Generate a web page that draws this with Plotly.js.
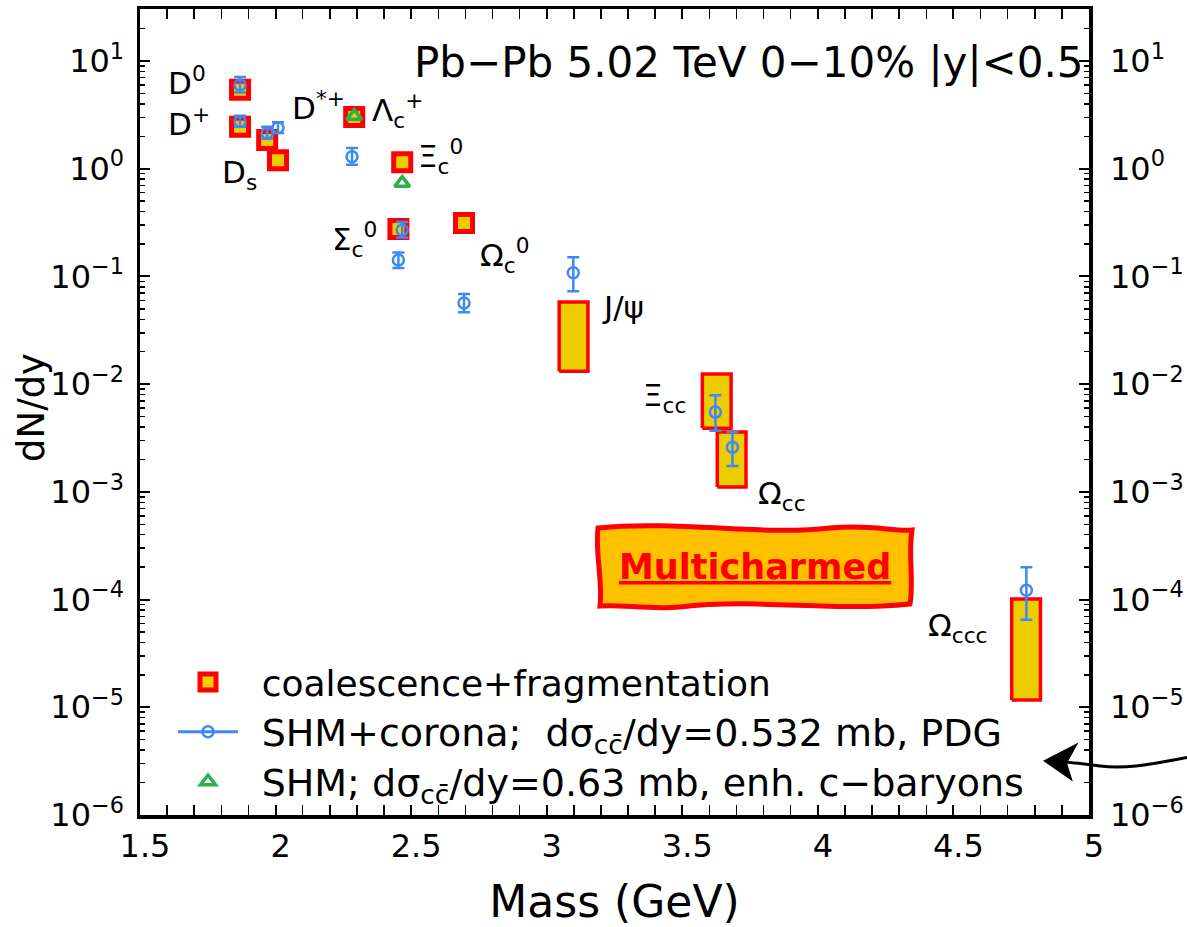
<!DOCTYPE html>
<html><head><meta charset="utf-8">
<script src="https://cdn.plot.ly/plotly-3.0.1.min.js"></script>
<style>html,body{margin:0;padding:0;background:#fff}</style>
</head><body>
<div id="chart" style="width:1187px;height:927px"></div>
<script>
// ---------------- data ----------------
const xTickVals = [1.5, 2, 2.5, 3, 3.5, 4, 4.5, 5];
const xTickText = ['1.5', '2', '2.5', '3', '3.5', '4', '4.5', '5'];
const yTickVals = [1e-6, 1e-5, 1e-4, 1e-3, 1e-2, 1e-1, 1, 10];
const yTickText = ['10<sup>−6</sup>', '10<sup>−5</sup>', '10<sup>−4</sup>', '10<sup>−3</sup>',
                   '10<sup>−2</sup>', '10<sup>−1</sup>', '10<sup>0</sup>', '10<sup>1</sup>'];

// coalescence + fragmentation: single values
const cfPointNames = ['D0', 'D+', 'D*+', 'Ds', 'Λc+', 'Ξc0', 'Σc0', 'Ωc0'];
const cfPointMass  = [1.869, 1.869, 1.969, 2.009, 2.290, 2.467, 2.453, 2.695];
const cfPointYield = [5.4, 2.45, 1.85, 1.20, 3.02, 1.15, 0.275, 0.313];

// coalescence + fragmentation: ranges (bands)
const cfBandNames = ['J/ψ', 'Ξcc', 'Ωcc', 'Ωccc'];
const cfBandMass  = [3.099, 3.627, 3.682, 4.768];
const cfBandLow   = [0.0132, 0.0039, 0.00111, 1.17e-5];
const cfBandHigh  = [0.058, 0.0124, 0.0036, 1.01e-4];
const cfBandHalfWidth = 0.053;

// SHM + corona
const shmNames = ['D0', 'D+', 'D*+', 'Ds', 'Λc+', 'Ξc0', 'Σc0', 'Ωc0', 'J/ψ', 'Ξcc', 'Ωcc', 'Ωccc'];
const shmMass  = [1.869, 1.869, 1.969, 2.009, 2.282, 2.467, 2.453, 2.695, 3.098, 3.622, 3.685, 4.769];
const shmYield = [6.0, 2.75, 2.15, 2.4, 1.29, 0.27, 0.142, 0.0566, 0.108, 0.0055, 0.0026, 1.22e-4];
const shmErrPlus  = [1.1, 0.35, 0.3, 0.3, 0.27, 0.05, 0.025, 0.012, 0.043, 0.0024, 0.001, 0.78e-4];
const shmErrMinus = [0.9, 0.3, 0.25, 0.25, 0.2, 0.04, 0.022, 0.010, 0.035, 0.0018, 0.00086, 0.57e-4];

// SHM with enhanced charm baryons
const enhNames = ['Λc+', 'Ξc0'];
const enhMass  = [2.290, 2.467];
const enhYield = [3.08, 0.736];

const legendNames = [
  'coalescence+fragmentation',
  'SHM+corona;\u00A0 dσ<sub>cc̄</sub>/dy=0.532 mb, PDG',
  'SHM; dσ<sub>cc̄</sub>/dy=0.63 mb, enh. c−baryons'
];
const LEGEND_PAD = '\u00A0\u2009';
const wide = s => '<span style="font-size:38px">' + s + '</span>';

// particle labels (text, pixel position of left edge and vertical centre)
const labelTexts = ['D<sup>0</sup>', 'D<sup>+</sup>', 'D<sup>*+</sup>', 'Λ<sub>c</sub><sup>+</sup>', 'D<sub>s</sub>',
  'Ξ<sub>c</sub><sup>0</sup>', 'Σ<sub>c</sub><sup>0</sup>', 'Ω<sub>c</sub><sup>0</sup>', 'J/ψ',
  'Ξ<sub>cc</sub>', 'Ω<sub>cc</sub>', 'Ω<sub>ccc</sub>'];
const labelPx = [[166, 81], [166, 122], [290, 106], [370, 110], [220, 174], [416, 156], [330, 239], [478, 256],
  [600, 307], [641, 397], [756, 495], [926, 627]];

// ---------------- geometry helpers (layout only) ----------------
const FONT = 'DejaVu Sans';
const L = 140, R = 1089, T = 9, B = 815;
const px = x => (x - L) / (R - L);
const py = y => (B - y) / (B - T);
const P = (x, y) => px(x).toFixed(5) + ',' + py(y).toFixed(5);

const RED = '#ff0000', YEL = '#ebcd00', BLUE = '#3d8af7', GREEN = '#2eae4f';

// minor log tick positions (2..9 x 10^n)
const yMinorVals = [];
for (let n = -6; n <= 1; n++) for (let k = 2; k <= 9; k++) {
  const v = k * Math.pow(10, n);
  if (v < 30) yMinorVals.push(v);
}

// bands as closed polygons separated by null
const bandX = [], bandY = [];
cfBandMass.forEach((m, i) => {
  const a = m - cfBandHalfWidth, b = m + cfBandHalfWidth;
  bandX.push(a, b, b, a, a, null);
  bandY.push(cfBandLow[i], cfBandLow[i], cfBandHigh[i], cfBandHigh[i], cfBandLow[i], null);
});

const traces = [
  { x: bandX, y: bandY, mode: 'lines', fill: 'toself', fillcolor: YEL,
    line: { color: RED, width: 3.5 }, showlegend: false, hoverinfo: 'skip' },
  { x: cfPointMass, y: cfPointYield, text: cfPointNames, mode: 'markers', name: LEGEND_PAD + legendNames[0],
    marker: { symbol: 'square', size: 17, color: YEL, line: { color: RED, width: 5 } } },
  { x: enhMass, y: enhYield, text: enhNames, mode: 'markers', showlegend: false,
    marker: { symbol: 'triangle-up-open', size: 13, color: GREEN, line: { color: GREEN, width: 3.5 } } },
  { x: shmMass, y: shmYield, text: shmNames, mode: 'markers', showlegend: false,
    marker: { symbol: 'circle-open', size: 11, color: BLUE, line: { color: BLUE, width: 2.5 } },
    error_y: { type: 'data', symmetric: false, array: shmErrPlus, arrayminus: shmErrMinus,
               color: BLUE, thickness: 2.5, width: 6 } },
  { x: [null], y: [null], mode: 'lines+markers', name: LEGEND_PAD + wide(legendNames[1]),
    line: { color: BLUE, width: 3 },
    marker: { symbol: 'circle-open', size: 11, color: BLUE, line: { color: BLUE, width: 2.5 } } },
  { x: [null], y: [null], mode: 'markers', name: LEGEND_PAD + wide(legendNames[2]),
    marker: { symbol: 'triangle-up-open', size: 13, color: GREEN, line: { color: GREEN, width: 3.5 } } },
  // carries the right-hand label axis (draws nothing)
  { x: shmMass, y: shmYield, yaxis: 'y2', mode: 'none', showlegend: false, hoverinfo: 'skip' }
];

const annotations = labelTexts.map((t, i) => ({
  text: t, xref: 'paper', yref: 'paper', x: px(labelPx[i][0]), y: py(labelPx[i][1]),
  xanchor: 'left', yanchor: 'middle', showarrow: false,
  font: { family: FONT, size: 31, color: 'black' }
}));
annotations.push({
  text: 'Pb−Pb 5.02 TeV 0−10% |y|&lt;0.5', xref: 'paper', yref: 'paper',
  x: px(1086), y: py(62), xanchor: 'right', yanchor: 'middle', showarrow: false,
  font: { family: FONT, size: 42, color: 'black' }
});
annotations.push({
  text: '<b><u>Multicharmed</u></b>', xref: 'paper', yref: 'paper',
  x: px(755), y: py(567), xanchor: 'center', yanchor: 'middle', showarrow: false,
  font: { family: FONT, size: 35, color: RED }
});
// y-axis title
annotations.push({
  text: 'dN/dy', xref: 'paper', yref: 'paper', x: px(32), y: py(408),
  xanchor: 'center', yanchor: 'middle', textangle: -90, showarrow: false,
  font: { family: FONT, size: 37, color: 'black' }
});

const boxPath = 'M' + P(598, 528) + ' C' + P(680, 520) + ' ' + P(760, 536) + ' ' + P(830, 528) +
  ' C' + P(870, 524) + ' ' + P(895, 532) + ' ' + P(912, 530) +
  ' C' + P(908, 555) + ' ' + P(914, 580) + ' ' + P(910, 604) +
  ' C' + P(830, 612) + ' ' + P(760, 598) + ' ' + P(680, 607) +
  ' C' + P(650, 610) + ' ' + P(620, 604) + ' ' + P(600, 606) +
  ' C' + P(603, 580) + ' ' + P(595, 555) + ' ' + P(598, 528) + ' Z';

const arrowLine = 'M' + P(1190, 757) + ' C' + P(1160, 762) + ' ' + P(1130, 770) + ' ' + P(1100, 766) +
  ' C' + P(1085, 764) + ' ' + P(1070, 762) + ' ' + P(1060, 762);
const arrowHead = 'M' + P(1045, 761) + ' L' + P(1076, 745) + ' L' + P(1066, 763) + ' L' + P(1071, 779) + ' Z';

const shapes = [
  { type: 'path', xref: 'paper', yref: 'paper', path: boxPath, fillcolor: '#ffc000',
    line: { color: RED, width: 5 }, layer: 'above' },
  { type: 'path', xref: 'paper', yref: 'paper', path: arrowLine,
    line: { color: 'black', width: 3 }, layer: 'above' },
  { type: 'path', xref: 'paper', yref: 'paper', path: arrowHead, fillcolor: 'black',
    line: { color: 'black', width: 2 }, layer: 'above' }
];

const tickFont = { family: FONT, size: 32, color: 'black' };

const layout = {
  width: 1187, height: 927,
  margin: { l: L, r: 1187 - R, t: T, b: 927 - B, pad: 0 },
  paper_bgcolor: 'white', plot_bgcolor: 'white',
  font: { family: FONT, color: 'black' },
  showlegend: true,
  legend: {
    x: px(173), y: py(652), xanchor: 'left', yanchor: 'top',
    bgcolor: 'rgba(0,0,0,0)', borderwidth: 0, itemwidth: 60, tracegroupgap: 0,
    font: { family: FONT, size: 36, color: 'black' }
  },
  xaxis: {
    type: 'linear', range: [1.5, 5], tickmode: 'array', tickvals: xTickVals, ticktext: xTickText,
    ticks: 'inside', ticklen: 10, tickwidth: 2, tickcolor: 'black', mirror: 'allticks',
    showline: true, linewidth: 3.5, linecolor: 'black', showgrid: false, zeroline: false,
    tickfont: tickFont, ticklabelshift: 5, ticklabelstandoff: 0,
    minor: { ticks: 'inside', dtick: 0.1, tick0: 1.5, ticklen: 5, tickwidth: 1.5, tickcolor: 'black', showgrid: false },
    title: { text: 'Mass (GeV)', font: { family: FONT, size: 44, color: 'black' }, standoff: 26 }
  },
  yaxis: {
    type: 'log', range: [-6, 1.4828], tickmode: 'array', tickvals: yTickVals, ticktext: yTickText,
    ticks: 'inside', ticklen: 10, tickwidth: 2, tickcolor: 'black', mirror: 'allticks',
    showline: true, linewidth: 3.5, linecolor: 'black', showgrid: false, zeroline: false,
    tickfont: tickFont, ticklabelstandoff: 6,
    minor: { ticks: 'inside', tickmode: 'array', tickvals: yMinorVals, ticklen: 5, tickwidth: 1.5,
             tickcolor: 'black', showgrid: false },
    title: { text: '' }
  },
  yaxis2: {
    type: 'log', range: [-6, 1.4828], overlaying: 'y', side: 'right', anchor: 'x',
    tickmode: 'array', tickvals: yTickVals, ticktext: yTickText,
    ticks: '', showline: false, showgrid: false, zeroline: false,
    tickfont: tickFont, ticklabelstandoff: 20
  },
  annotations: annotations,
  shapes: shapes
};

Plotly.newPlot('chart', traces, layout, { displayModeBar: false, staticPlot: true });
</script>
</body></html>
